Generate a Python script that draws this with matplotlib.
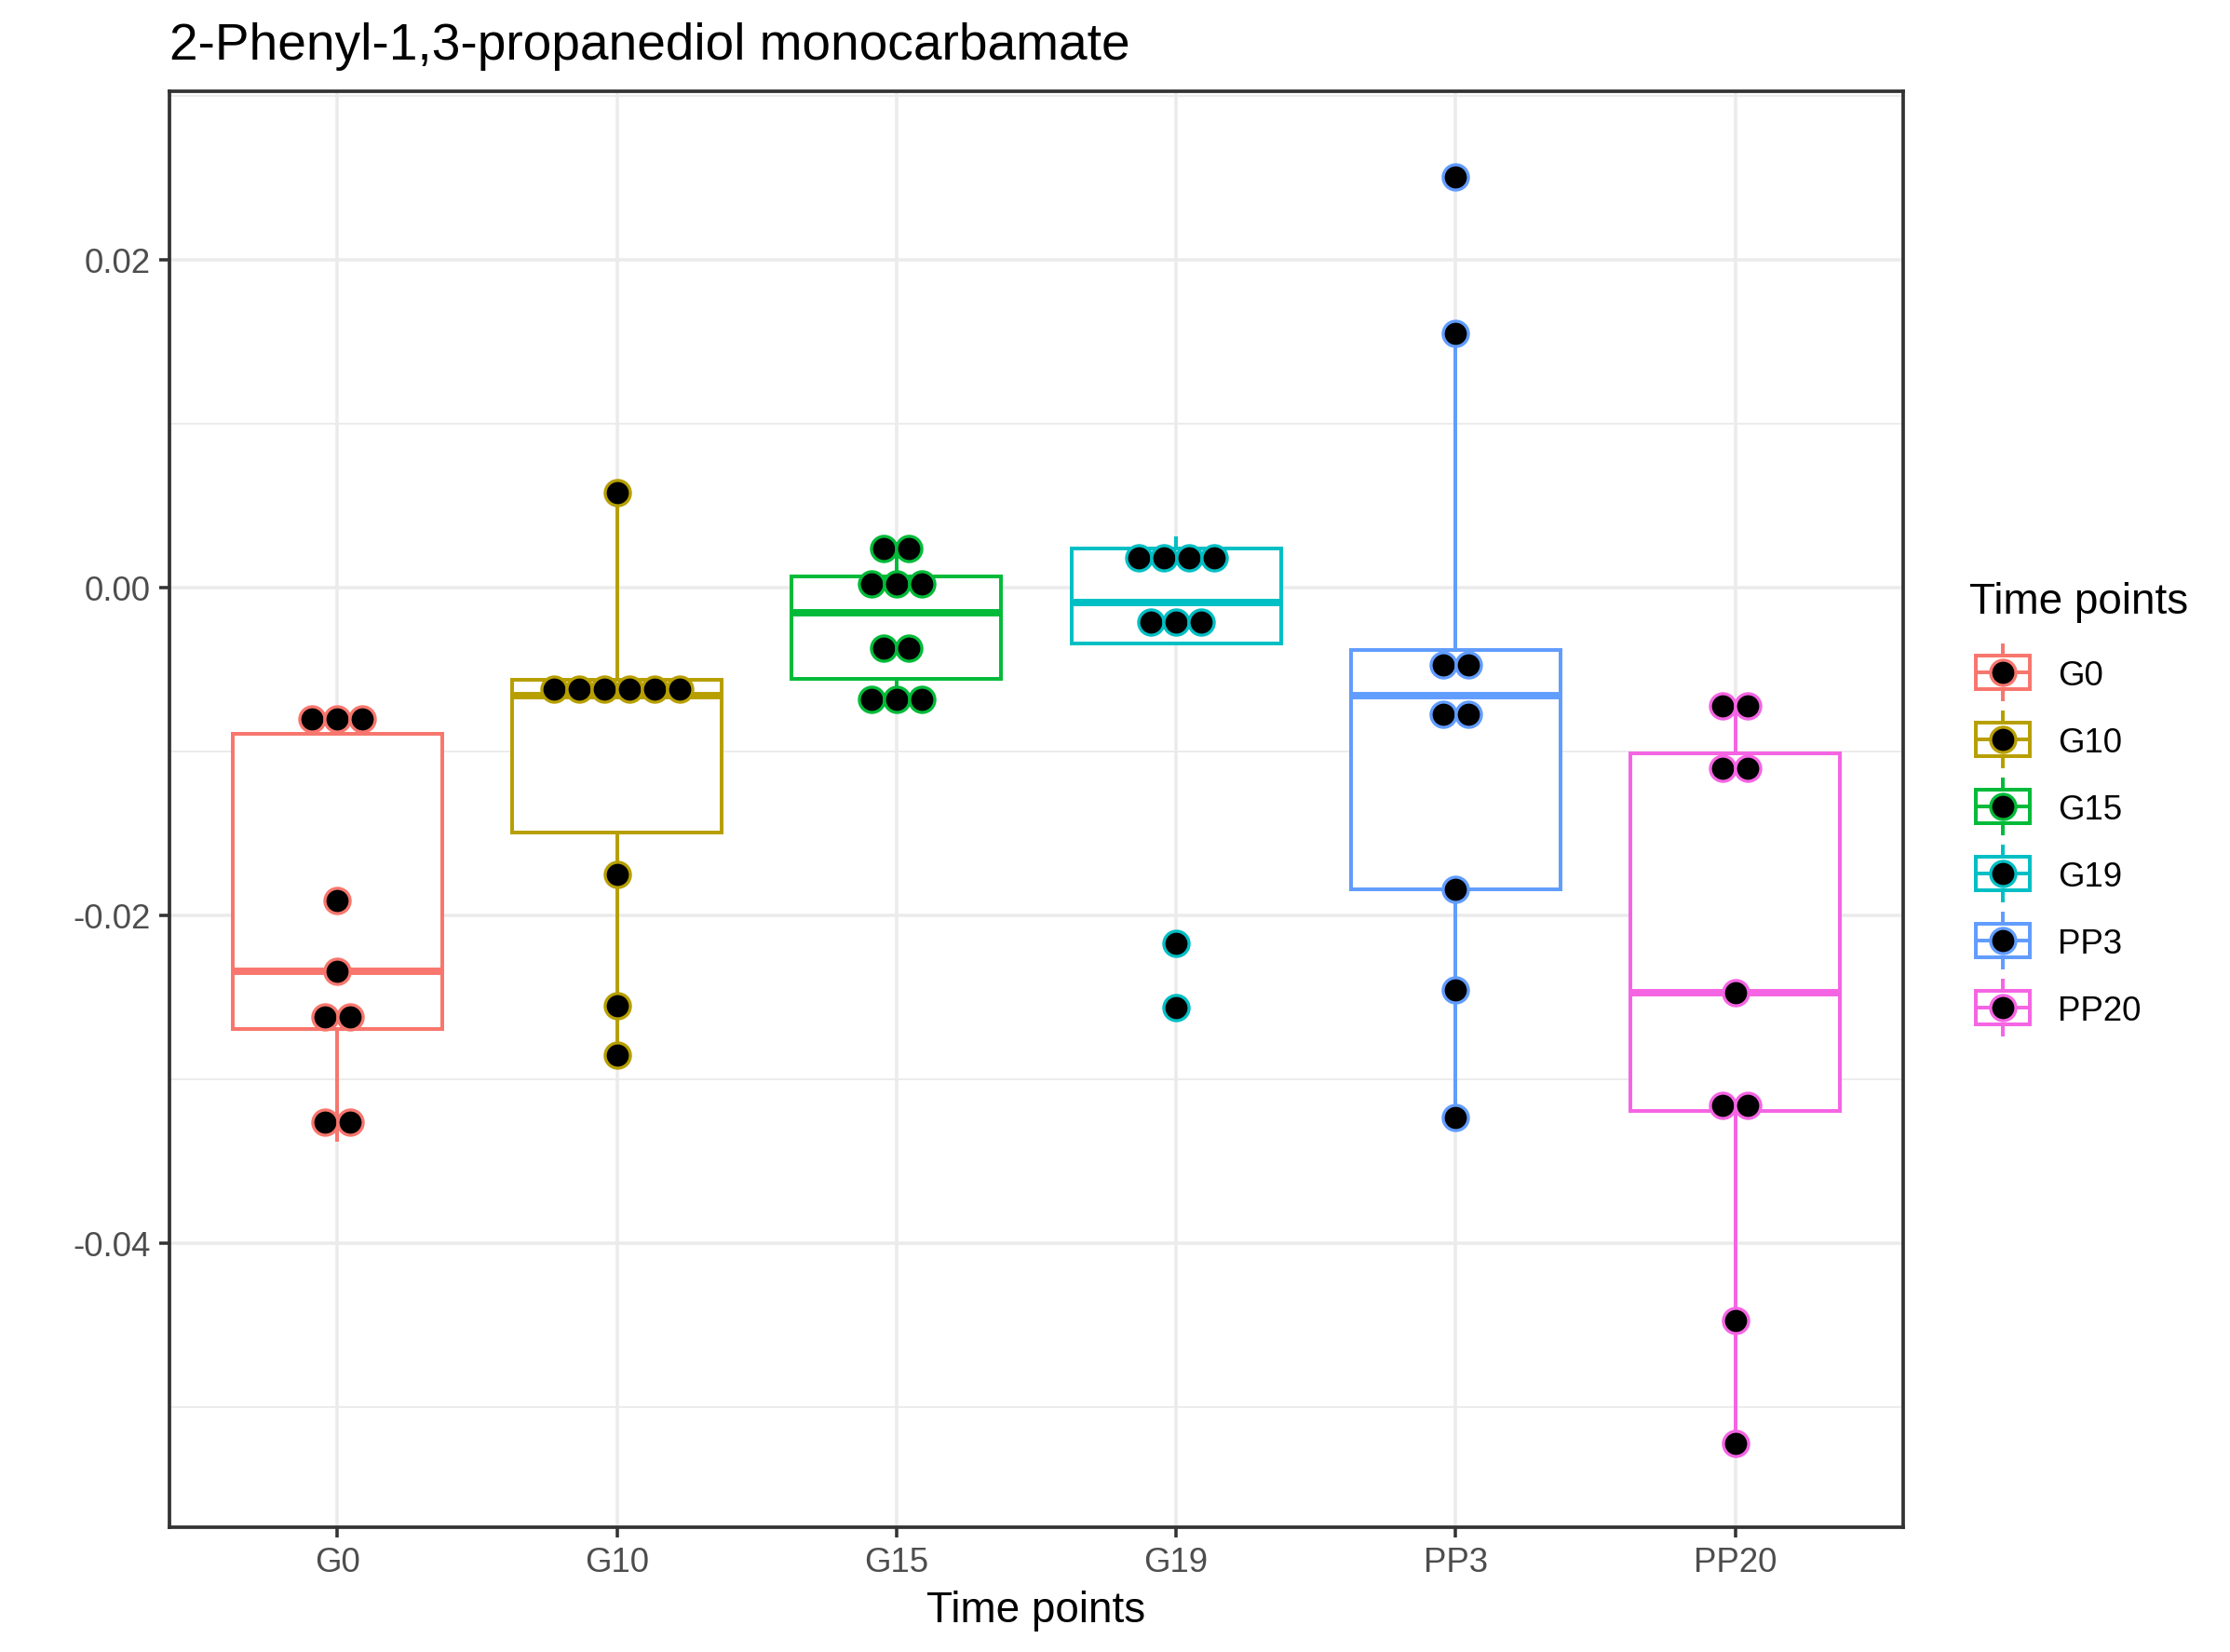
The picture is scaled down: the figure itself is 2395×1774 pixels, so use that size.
import matplotlib
matplotlib.use("Agg")
import matplotlib.pyplot as plt
from matplotlib.ticker import FuncFormatter, MultipleLocator

plt.rcParams["font.family"] = ["Liberation Sans", "DejaVu Sans"]

# Groups and colours (ggplot hue palette)
groups = ["G0", "G10", "G15", "G19", "PP3", "PP20"]
colors = ["#F8766D", "#B79F00", "#00BA38", "#00BFC4", "#619CFF", "#F564E3"]

# Box statistics
whis_lo = [-0.0337, -0.0285, -0.0060, -0.00339, -0.0323, -0.0522]
q1 = [-0.0269, -0.0149, -0.00555, -0.00339, -0.0184, -0.0319]
median = [-0.0234, -0.0066, -0.00154, -0.00091, -0.0066, -0.0247]
q3 = [-0.0089, -0.0056, 0.00071, 0.00238, -0.0038, -0.0101]
whis_hi = [-0.0089, 0.0058, 0.0022, 0.0030, 0.0155, -0.0072]

# Dot-plot bins: centre value and number of stacked dots
dot_vals = [
    [-0.0080, -0.0191, -0.0234, -0.0262, -0.0326],
    [0.0058, -0.0062, -0.0175, -0.0255, -0.0285],
    [0.0024, 0.00025, -0.0037, -0.0068],
    [0.00185, -0.0021, -0.0217, -0.0256],
    [0.0251, 0.0155, -0.0047, -0.0077, -0.0184, -0.0245, -0.0323],
    [-0.0072, -0.0110, -0.0247, -0.0316, -0.0447, -0.0522],
]
dot_counts = [
    [3, 1, 1, 2, 2],
    [1, 6, 1, 1, 1],
    [2, 3, 2, 3],
    [4, 3, 1, 1],
    [1, 1, 2, 2, 1, 1, 1],
    [2, 2, 1, 2, 1, 1],
]

W, H, DPI = 2395, 1774, 300
fig = plt.figure(figsize=(W / DPI, H / DPI), dpi=DPI)
ax = fig.add_axes([182 / W, 1 - 1640 / H, (2044 - 182) / W, (1640 - 98) / H])

grid_c = "#EBEBEB"
ax.set_xlim(0.4, 6.6)
ax.set_ylim(-0.05731, 0.03030)
ax.yaxis.set_major_locator(MultipleLocator(0.02))
ax.yaxis.set_minor_locator(MultipleLocator(0.01))
ax.yaxis.set_major_formatter(FuncFormatter(lambda v, p: f"{v:.2f}".replace("\u2212", "-")))
ax.grid(True, which="major", color=grid_c, lw=0.85, zorder=0)
ax.grid(True, which="minor", axis="y", color=grid_c, lw=0.45, zorder=0)
ax.set_axisbelow(True)

pos = list(range(1, len(groups) + 1))
stats = []
for i, g in enumerate(groups):
    stats.append({"label": g, "whislo": whis_lo[i], "q1": q1[i], "med": median[i],
                  "q3": q3[i], "whishi": whis_hi[i]})

box_lw = 0.95
for i, st in enumerate(stats):
    c = colors[i]
    ax.bxp([st], positions=[pos[i]], widths=0.75, patch_artist=True, showfliers=False,
           showcaps=False,
           boxprops=dict(facecolor="white", edgecolor=c, lw=box_lw),
           whiskerprops=dict(color=c, lw=box_lw),
           medianprops=dict(color=c, lw=1.9, solid_capstyle="butt"),
           zorder=2)

# centred dot stacks
step = 0.09
for i in range(len(groups)):
    xs, ys = [], []
    for v, n in zip(dot_vals[i], dot_counts[i]):
        for k in range(n):
            xs.append(pos[i] + (k - (n - 1) / 2) * step)
            ys.append(v)
    ax.scatter(xs, ys, s=6.5 ** 2, c="black", edgecolors=colors[i], linewidths=0.8, zorder=3)

ax.set_xticks(pos)
ax.set_xticklabels(groups)
ax.tick_params(axis="both", which="major", length=2.75, width=0.85, color="#333333",
               labelcolor="#4D4D4D", labelsize=8.8, pad=2.2)
ax.tick_params(axis="both", which="minor", length=0)
for s in ax.spines.values():
    s.set_color("#333333")
    s.set_linewidth(0.9)

ax.set_xlabel("Time points", fontsize=11, labelpad=3)
fig.text(182 / W, 1 - 64 / H, "2-Phenyl-1,3-propanediol monocarbamate", fontsize=13.2,
         ha="left", va="baseline")

# legend drawn in pixel coordinates
lg = fig.add_axes([0, 0, 1, 1])
lg.set_xlim(0, W)
lg.set_ylim(H, 0)
lg.axis("off")
lg.text(2115, 659, "Time points", fontsize=11, ha="left", va="baseline")
key_left, key_size = 2115, 72
for i, g in enumerate(groups):
    cy = 722 + i * 72
    c = colors[i]
    bx0, bx1 = key_left + 0.1 * key_size, key_left + 0.9 * key_size
    cx = key_left + key_size / 2
    lg.plot([cx, cx], [cy - 0.4 * key_size, cy - 0.25 * key_size], color=c, lw=box_lw)
    lg.plot([cx, cx], [cy + 0.25 * key_size, cy + 0.4 * key_size], color=c, lw=box_lw)
    lg.add_patch(plt.Rectangle((bx0, cy - 0.25 * key_size), bx1 - bx0, 0.5 * key_size,
                               facecolor="white", edgecolor=c, lw=box_lw))
    lg.plot([bx0, bx1], [cy, cy], color=c, lw=box_lw)
    lg.scatter([cx], [cy], s=6.5 ** 2, c="black", edgecolors=c, linewidths=0.8, zorder=3)
    lg.text(2210, cy, g, fontsize=8.8, ha="left", va="center_baseline")

fig.savefig("out.png", dpi=DPI)
